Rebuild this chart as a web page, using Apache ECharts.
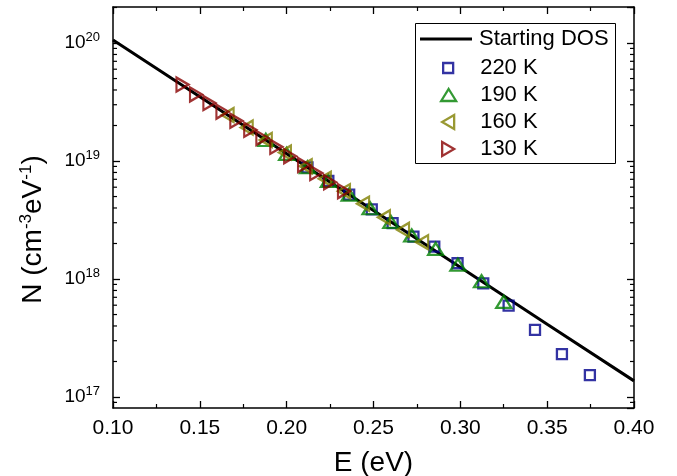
<!DOCTYPE html>
<html>
<head>
<meta charset="utf-8">
<script src="https://cdn.jsdelivr.net/npm/echarts@6/dist/echarts.min.js"></script>
<style>html,body{margin:0;padding:0;background:#fff;}#c{width:677px;height:476px;}</style>
</head>
<body>
<div id="c"></div>
<script>
// ---- Data ----
const dosE = [0.10, 0.15, 0.20, 0.25, 0.30, 0.35, 0.40];
const dosN = [1.06e20, 3.50e19, 1.153e19, 3.80e18, 1.256e18, 4.14e17, 1.37e17];

const e220 = [0.212, 0.224, 0.236, 0.249, 0.261, 0.273, 0.285, 0.2984, 0.3132, 0.3278, 0.343, 0.3585, 0.3746];
const n220 = [8.84e18, 6.77e18, 5.19e18, 3.89e18, 2.98e18, 2.29e18, 1.88e18, 1.36e18, 9.2e17, 5.94e17, 3.7e17, 2.31e17, 1.53e17];

const e190 = [0.188, 0.200, 0.212, 0.224, 0.236, 0.248, 0.260, 0.272, 0.2858, 0.2986, 0.3122, 0.325];
const n190 = [1.51e19, 1.15e19, 8.84e18, 6.77e18, 5.19e18, 3.98e18, 3.05e18, 2.34e18, 1.80e18, 1.32e18, 9.57e17, 6.4e17];

const e160 = [0.166, 0.177, 0.188, 0.199, 0.211, 0.222, 0.233, 0.244, 0.256, 0.267, 0.278];
const n160 = [2.45e19, 1.92e19, 1.51e19, 1.18e19, 9.04e18, 7.08e18, 5.55e18, 4.35e18, 3.33e18, 2.61e18, 2.05e18];

const e130 = [0.140, 0.1478, 0.1555, 0.163, 0.171, 0.179, 0.186, 0.194, 0.202, 0.210, 0.217, 0.225, 0.233];
const n130 = [4.45e19, 3.67e19, 3.10e19, 2.62e19, 2.19e19, 1.84e19, 1.57e19, 1.32e19, 1.10e19, 9.25e18, 7.91e18, 6.62e18, 5.55e18];

const seriesNames = ['Starting DOS', '220 K', '190 K', '160 K', '130 K'];
const xTicks = [0.10, 0.15, 0.20, 0.25, 0.30, 0.35, 0.40];
const yMin = 8.07e16, yMax = 2.02e20;

// ---- Chart ----
const FONT = 'Liberation Sans, Arial, Helvetica, sans-serif';
const zip = (a, b) => a.map((v, i) => [v, b[i]]);
const chart = echarts.init(document.getElementById('c'), null, {renderer: 'canvas'});

const axisLine = {show: true, lineStyle: {color: '#000', width: 1.5}};
const xCommon = {
  type: 'value', min: xTicks[0], max: xTicks[xTicks.length - 1], interval: 0.05,
  axisLine: axisLine, splitLine: {show: false},
  axisTick: {show: true, inside: true, length: 7, lineStyle: {color: '#000', width: 1.3}},
  minorTick: {show: true, splitNumber: 2, length: 4, lineStyle: {color: '#000', width: 1.2}},
  minorSplitLine: {show: false}
};
const yCommon = {
  type: 'log', logBase: 10, min: yMin, max: yMax,
  axisLine: axisLine, splitLine: {show: false},
  axisTick: {show: true, inside: true, length: 7, lineStyle: {color: '#000', width: 1.3}}
};

function yLabel(v) {
  const l = Math.log10(v);
  const e = Math.round(l);
  if (Math.abs(l - e) > 1e-6) return '';
  return '{b|10}{s|' + e + '}';
}

const BW = 2.3;
const sym = (name, color, symbol, size, rot) => ({
  name: name, type: 'scatter', symbol: symbol, symbolSize: size, symbolRotate: rot,
  itemStyle: {color: 'transparent', borderColor: color, borderWidth: BW},
  emphasis: {disabled: true}
});

const s220 = sym(seriesNames[1], '#00008c', 'rect', 10, 0);
s220.data = zip(e220, n220);
const s190 = sym(seriesNames[2], '#008000', 'triangle', [15, 12], 0);
s190.data = zip(e190, n190);
const s160 = sym(seriesNames[3], '#808000', 'triangle', [14, 12], 90);
s160.data = zip(e160, n160);
const s130 = sym(seriesNames[4], '#880000', 'triangle', [14, 12], -90);
s130.data = zip(e130, n130);

// Legend: one component per row so each symbol keeps its own size and direction
const LEG_TEXT_X = 479;
const LEG_ICON_CX = 447;
const legendRows = [39, 68, 95, 122, 149];
const legendIcon = [
  {w: 52, h: 3, left: 420, icon: 'rect'},
  {w: 10, h: 10, icon: 'rect'},
  {w: 15, h: 12, icon: 'triangle'},
  {w: 12, h: 14, icon: 'path://M12,0L0,7L12,14Z'},
  {w: 12, h: 14, icon: 'path://M0,0L12,7L0,14Z'}
];
const legendColors = ['#000', '#00008c', '#008000', '#808000', '#880000'];
const legends = seriesNames.map((nm, i) => {
  const ic = legendIcon[i];
  const left = ic.left !== undefined ? ic.left : Math.round(LEG_ICON_CX - ic.w / 2);
  const spacer = Math.max(0, LEG_TEXT_X - (left + ic.w + 5));
  const itemStyle = i === 0
    ? {color: '#000', borderWidth: 0}
    : {color: 'transparent', borderColor: legendColors[i], borderWidth: BW};
  return {
    show: true, orient: 'vertical', left: left, top: legendRows[i] - 12,
    padding: 0, itemGap: 0, itemWidth: ic.w, itemHeight: ic.h,
    selectedMode: false, symbolRotate: 0,
    data: [{name: nm, icon: ic.icon, itemStyle: itemStyle}],
    formatter: n => '{sp|}{t|' + n + '}',
    textStyle: {
      color: '#000', fontFamily: FONT, fontSize: 22, lineHeight: 24,
      rich: {sp: {width: spacer, fontSize: 22, lineHeight: 24}, t: {fontSize: 22, lineHeight: 24, color: '#000', fontFamily: FONT}}
    }
  };
});

const option = {
  animation: false,
  backgroundColor: '#fff',
  textStyle: {fontFamily: FONT},
  grid: {left: 113, right: 43, top: 7, bottom: 68, containLabel: false, outerBoundsMode: 'none'},
  xAxis: [
    Object.assign({}, xCommon, {
      position: 'bottom',
      name: 'E (eV)', nameLocation: 'middle', nameGap: 41,
      nameTextStyle: {fontSize: 28, color: '#000', fontFamily: FONT},
      axisLabel: {show: true, margin: 10, fontSize: 21, color: '#000', fontFamily: FONT,
        formatter: v => v.toFixed(2)}
    }),
    Object.assign({}, xCommon, {position: 'top', axisLabel: {show: false}})
  ],
  yAxis: [
    Object.assign({}, yCommon, {
      position: 'left',
      name: '{a|N (cm}{s|-3}{a|eV}{s|-1}{a|)}', nameLocation: 'middle', nameGap: 64, nameRotate: 90,
      nameTextStyle: {
        color: '#000', fontFamily: FONT, padding: [0, 44, 0, 0],
        rich: {
          a: {fontSize: 28, color: '#000', fontFamily: FONT, lineHeight: 32},
          s: {fontSize: 17, color: '#000', fontFamily: FONT, lineHeight: 32, padding: [0, 0, 13, 0]}
        }
      },
      axisLabel: {
        show: true, margin: 13, color: '#000', fontFamily: FONT, formatter: yLabel,
        showMinLabel: false, showMaxLabel: false,
        rich: {
          b: {fontSize: 19, color: '#000', fontFamily: FONT, lineHeight: 22},
          s: {fontSize: 13, color: '#000', fontFamily: FONT, lineHeight: 22, padding: [0, 0, 11, 0]}
        }
      }
    }),
    Object.assign({}, yCommon, {position: 'right', axisLabel: {show: false}})
  ],
  legend: legends,
  series: [
    {
      name: seriesNames[0], type: 'line', data: zip(dosE, dosN),
      showSymbol: false, symbol: 'none', lineStyle: {color: '#000', width: 3},
      itemStyle: {color: '#000'}, emphasis: {disabled: true}, z: 1
    },
    s220, s190, s160, s130
  ]
};
chart.setOption(option);

// Legend frame + log-spaced minor ticks (2..9 × 10^n) on the left and right y axes
function addDecor() {
  const xl = chart.convertToPixel({xAxisIndex: 0}, xTicks[0]);
  const xr = chart.convertToPixel({xAxisIndex: 0}, xTicks[xTicks.length - 1]);
  const els = [{
    type: 'rect', z: 3, silent: true,
    shape: {x: 415.5, y: 23.5, width: 200, height: 140},
    style: {fill: '#fff', stroke: '#000', lineWidth: 1}
  }];
  for (let n = 16; n <= 20; n++) {
    for (let k = 2; k <= 9; k++) {
      const v = k * Math.pow(10, n);
      if (v <= yMin || v >= yMax) continue;
      const y = chart.convertToPixel({yAxisIndex: 0}, v);
      els.push({type: 'line', shape: {x1: xl, y1: y, x2: xl + 4, y2: y}, style: {stroke: '#000', lineWidth: 1.2}, silent: true});
      els.push({type: 'line', shape: {x1: xr, y1: y, x2: xr - 4, y2: y}, style: {stroke: '#000', lineWidth: 1.2}, silent: true});
    }
  }
  chart.setOption({graphic: els});
}
addDecor();
</script>
</body>
</html>
